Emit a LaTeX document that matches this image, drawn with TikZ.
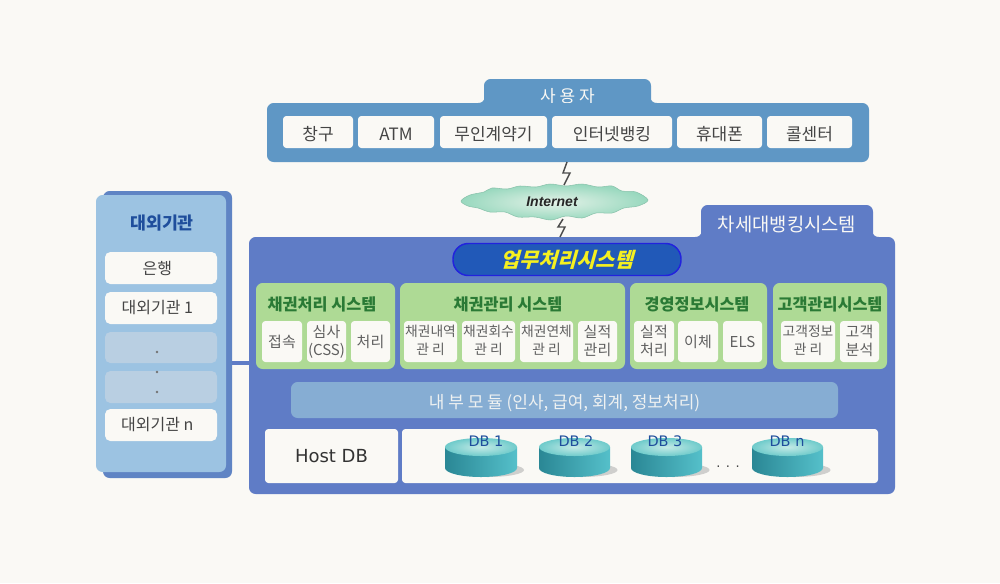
\documentclass[tikz,border=0pt]{standalone}
\usepackage{fontspec}
\setmainfont{Noto Sans CJK KR}
\newfontfamily\slantfont[FakeSlant=0.28]{Noto Sans CJK KR}
\newfontfamily\vfont{DejaVu Sans}
\newfontfamily\netfont{Liberation Sans}
\usetikzlibrary{calc}
\definecolor{bg}{HTML}{FAF9F5}
\definecolor{userc}{HTML}{5F97C5}
\definecolor{mainc}{HTML}{5F7CC6}
\definecolor{extc}{HTML}{9CC3E2}
\definecolor{extback}{HTML}{5F84C4}
\definecolor{greenc}{HTML}{AEDA95}
\definecolor{barc}{HTML}{86ADD3}
\definecolor{dotc}{HTML}{B9CFE2}
\definecolor{txt}{HTML}{444444}
\definecolor{gtitle}{HTML}{2A7A35}
\definecolor{navy}{HTML}{1F4E9C}
\definecolor{pillc}{HTML}{2159B8}
\definecolor{pilledge}{HTML}{2222DD}
\definecolor{cylL}{HTML}{2A8795}
\definecolor{cylR}{HTML}{55C0CA}
\definecolor{cylT}{HTML}{C4EAE6}
\definecolor{cylE}{HTML}{6FCBCB}
\definecolor{cloudI}{HTML}{E4F2E8}
\definecolor{cloudO}{HTML}{98D8BE}
\newcommand\fs[1]{\fontsize{\fpeval{#1*0.75}pt}{\fpeval{#1*0.9}pt}\selectfont}
\newcommand\fsb[1]{\fontsize{\fpeval{#1*0.75}pt}{13.5pt}\selectfont}
% two-line label, raised by #1
\newcommand\two[3]{\raisebox{#1}[0pt][0pt]{\begin{tabular}{@{}c@{}}#2\\#3\end{tabular}}}
% label moved left of the box centre
\newcommand\lft[1]{\mbox{#1\kern 5.5pt}}
% single line, set slightly below the box centre
\newcommand\lw[1]{\raisebox{-6.2pt}[0pt][0pt]{#1}}
% \bx[style]{name}{x1}{y1}{x2}{y2}{text}
\newcommand\bx[7][]{\node[box,#1,minimum width={(#5-#3)*0.75pt},minimum height={(#6-#4)*0.75pt}] (#2) at ({(#3+#5)/2},{(#4+#6)/2}) {#7};}
\begin{document}
\begin{tikzpicture}[x=0.75pt,y=-0.75pt,
  box/.style={inner sep=0pt,outer sep=0pt,rounded corners=2.5pt,align=center,text=txt},
  panel/.style={fill=#1,rounded corners=5pt},
  cell/.style={fill=bg},
  subcell/.style={fill=bg,font=\fsb{15},text=txt!85!white},
  subwide/.style={subcell,font=\fsb{13.8}},
  gtitlestyle/.style={inner sep=0pt,text=gtitle,font=\fs{16.3}\bfseries},
  bolt/.style={draw=black!70,line width=1.1pt,line join=miter},
  dbl/.style={inner sep=0pt,text=navy,font=\vfont\fs{14.5}}]
\useasboundingbox (0,0) rectangle (1000,583);
\fill[bg] (0,0) rectangle (1000,583);

% ---------- user panel
\bx[panel=userc,text=bg,font=\fs{17}]{usertab}{484}{79}{651}{110}{\lw{사 용 자}}
\bx[panel=userc]{user}{267}{103}{869}{162}{}
\fill[userc] (478,103) .. controls (482,103) and (484,101) .. (485,97) -- (485,104) -- cycle;
\fill[userc] (657,103) .. controls (653,103) and (651,101) .. (650,97) -- (650,104) -- cycle;
\bx[cell,font=\fs{17}]{u1}{283}{116}{353}{148}{\lw{창구}}
\bx[cell,font=\fs{17}]{u2}{358}{116}{434}{148}{\lw{ATM}}
\bx[cell,font=\fs{17}]{u3}{440}{116}{547}{148}{\lw{무인계약기}}
\bx[cell,font=\fs{17}]{u4}{552}{116}{672}{148}{\lw{인터넷뱅킹}}
\bx[cell,font=\fs{17}]{u5}{677}{116}{762}{148}{\lw{휴대폰}}
\bx[cell,font=\fs{17}]{u6}{767}{116}{852}{148}{\lw{콜센터}}

% ---------- main panel
\bx[panel=mainc,text=bg,font=\fs{18.8}]{maintab}{701}{205}{873}{244}{차세대뱅킹시스템}
\bx[panel=mainc]{main}{249}{237}{895}{494}{}
\fill[mainc] (695,237) .. controls (699,237) and (701,235) .. (702,231) -- (702,238) -- cycle;
\fill[mainc] (879,237) .. controls (875,237) and (873,235) .. (872,231) -- (872,238) -- cycle;

% ---------- internet cloud
\shade[inner color=cloudI,outer color=cloudO,draw=cloudO!90!black,line width=.4pt]
 plot[smooth cycle,tension=.55] coordinates {(461,201)(470,195)(484,192)(492,188)(507,189)(520,186)(536,187)(550,184)(566,186)(582,184)(598,187)(612,186)(622,191)(636,192)(648,200)(638,206)(624,208)(612,213)(596,213)(582,218)(566,216)(551,220)(535,217)(518,217)(505,212)(490,212)(478,208)(468,206)};
\node[inner sep=0pt,font=\netfont\fs{14}\bfseries\itshape,text=black!85] (net) at (552,202) {Internet};
\coordinate (cloudtop) at (564,185);
\coordinate (cloudbot) at (560,219);
\coordinate (usergap) at (user.south -| cloudtop);
\coordinate (maingap) at (main.north -| cloudbot);
\draw[bolt] ($(usergap)+(3,0)$) -- ++(-4,11) -- ++(7,0) -- (cloudtop);
\draw[bolt] ($(cloudbot)+(3,0)$) -- ++(-5,8) -- ++(7,0) -- (maingap);

% ---------- business pill
\node[inner sep=0pt,outer sep=0pt,rounded corners=11.5pt,fill=pillc,draw=pilledge,line width=1.1pt,
  minimum width=171pt,minimum height=24pt,text={rgb,255:red,245;green,240;blue,32},font=\slantfont\fs{20.5}\bfseries] (pill) at (567,259.5) {업무처리시스템};

% ---------- green groups
\bx[panel=greenc]{g1}{256}{283}{395}{369}{}
\bx[panel=greenc]{g2}{400}{283}{625}{369}{}
\bx[panel=greenc]{g3}{630}{283}{767}{369}{}
\bx[panel=greenc]{g4}{773}{283}{887}{369}{}
\node[gtitlestyle] (t1) at (322,304) {채권처리 시스템};
\node[gtitlestyle] (t2) at (508,304) {채권관리 시스템};
\node[gtitlestyle] (t3) at (697,304) {경영정보시스템};
\node[gtitlestyle] (t4) at (830,304) {고객관리시스템};

\bx[subcell]{s11}{262}{321}{302}{362}{접속}
\bx[subcell]{s12}{307}{321}{346}{362}{\two{-3.8pt}{심사}{(CSS)}}
\bx[subcell]{s13}{351}{321}{390}{362}{처리}
\bx[subwide]{s21}{404}{321}{457}{362}{\two{-2.6pt}{채권내역}{관 리}}
\bx[subwide]{s22}{462}{321}{515}{362}{\two{-2.6pt}{채권회수}{관 리}}
\bx[subwide]{s23}{520}{321}{573}{362}{\two{-2.6pt}{채권연체}{관 리}}
\bx[subcell]{s24}{578}{321}{617}{362}{\two{-3.8pt}{실적}{관리}}
\bx[subcell]{s31}{634}{321}{674}{362}{\two{-3.8pt}{실적}{처리}}
\bx[subcell]{s32}{678}{321}{718}{362}{이체}
\bx[subcell]{s33}{723}{321}{762}{362}{ELS}
\bx[subwide]{s41}{781}{321}{835}{362}{\two{-2.6pt}{고객정보}{관 리}}
\bx[subcell]{s42}{840}{321}{879}{362}{\two{-3.8pt}{고객}{분석}}

% ---------- module bar and databases
\bx[fill=barc,rounded corners=5pt,text=bg!90!barc,font=\fs{17}]{bar}{291}{382}{838}{418}{\lw{내 부 모 듈 (인사, 급여, 회계, 정보처리)}}
\bx[cell,text=black!80,font=\vfont\fs{18}]{host}{265}{429}{398}{483}{Host DB}
\bx[cell]{dbs}{402}{429}{878}{483}{}

\foreach \a/\b in {445/517,539/610,631/702,752/823}{
  \fill[black!35,opacity=.5] ({(\a+\b)/2+7},470) ellipse [x radius=36,y radius=7];
  \shade[left color=cylL,right color=cylR] (\a,447) -- (\a,468) arc [start angle=180,end angle=0,x radius={(\b-\a)/2},y radius=9] -- (\b,447) -- cycle;
  \shade[inner color=cylT,outer color=cylE] ({(\a+\b)/2},447) ellipse [x radius={(\b-\a)/2},y radius=9];
}
\node[dbl] (d1) at (486,441) {DB 1};
\node[dbl] (d2) at (576,441) {DB 2};
\node[dbl] (d3) at (665,441) {DB 3};
\node[dbl] (d4) at (787,441) {DB n};
\node[inner sep=0pt,text=txt,font=\vfont\fs{13}] (dots) at (728,467) {. . .};

% ---------- external institutions
\bx[panel=extback]{extb}{103}{191}{232}{478}{}
\bx[panel=extc]{ext}{96}{195}{226}{472}{}
\node[inner sep=0pt,text=navy,font=\fs{17.3}\bfseries] (exttitle) at (162,223) {대외기관};
\bx[cell,rounded corners=4pt,font=\fs{16}]{e1}{105}{252}{217}{284}{\lft{은행}}
\bx[cell,rounded corners=4pt,font=\fs{16}]{e2}{105}{292}{217}{324}{\lft{대외기관 1}}
\bx[fill=dotc,rounded corners=4pt]{e3}{105}{332}{217}{363}{}
\bx[fill=dotc,rounded corners=4pt]{e4}{105}{371}{217}{403}{}
\bx[cell,rounded corners=4pt,font=\fs{16}]{e5}{105}{409}{217}{441}{\lft{대외기관 n}}
\foreach \y in {352,372,392}{\fill[black!55] (157,\y) circle [radius=1.3];}
\draw[mainc,line width=2.4pt] (extb.east |- e3.south) -- (main.west |- e3.south);
\end{tikzpicture}
\end{document}
